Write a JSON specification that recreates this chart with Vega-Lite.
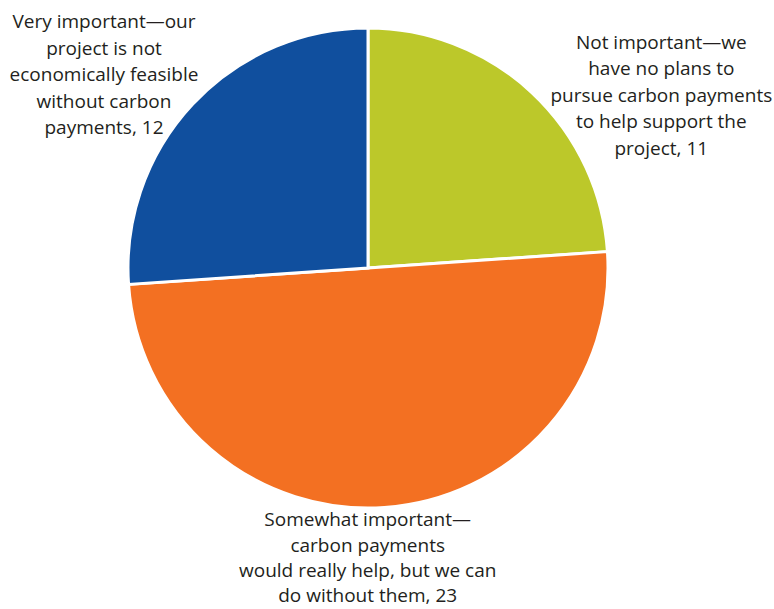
{
  "$schema": "https://vega.github.io/schema/vega-lite/v6.json",
  "width": 480,
  "height": 480,
  "autosize": {"type": "none"},
  "padding": {"left": 128, "top": 28, "right": 166, "bottom": 101},
  "background": "white",
  "data": {
    "values": [
      {"category": "Not important", "label": "Not important\u2014we\nhave no plans to\npursue carbon payments\nto help support the\nproject, 11", "value": 11, "rank": 1},
      {"category": "Somewhat important", "label": "Somewhat important\u2014\ncarbon payments\nwould really help, but we can\ndo without them, 23", "value": 23, "rank": 2},
      {"category": "Very important", "label": "Very important\u2014our\nproject is not\neconomically feasible\nwithout carbon\npayments, 12", "value": 12, "rank": 3}
    ]
  },
  "transform": [
    {"stack": "value", "groupby": [], "sort": [{"field": "rank", "order": "ascending"}], "as": ["v0", "v1"]}
  ],
  "layer": [
    {
      "mark": {"type": "arc", "stroke": "white", "strokeWidth": 3},
      "encoding": {
        "theta": {"field": "v0", "type": "quantitative", "scale": {"domain": [0, 46]}},
        "theta2": {"field": "v1"},
        "color": {
          "field": "category",
          "type": "nominal",
          "scale": {
            "domain": ["Not important", "Somewhat important", "Very important"],
            "range": ["#BCC82A", "#F37022", "#104F9E"]
          },
          "legend": null
        }
      }
    },
    {
      "transform": [{"filter": "datum.rank == 1"}],
      "mark": {"type": "text", "radius": 300, "dx": -6, "dy": -205, "align": "center", "baseline": "middle", "lineBreak": "\n", "lineHeight": 26.6, "font": "Open Sans", "fontSize": 19, "color": "#231F20"},
      "encoding": {
        "theta": {"field": "v1", "type": "quantitative"},
        "text": {"field": "label"}
      }
    },
    {
      "transform": [{"filter": "datum.rank == 2"}],
      "mark": {"type": "text", "radius": 300, "dx": 299, "dy": 232, "align": "center", "baseline": "middle", "lineBreak": "\n", "lineHeight": 25.3, "font": "Open Sans", "fontSize": 19, "color": "#231F20"},
      "encoding": {
        "theta": {"field": "v1", "type": "quantitative"},
        "text": {"field": "label"}
      }
    },
    {
      "transform": [{"filter": "datum.rank == 3"}],
      "mark": {"type": "text", "radius": 300, "dx": -264, "dy": 54, "align": "center", "baseline": "middle", "lineBreak": "\n", "lineHeight": 26.6, "font": "Open Sans", "fontSize": 19, "color": "#231F20"},
      "encoding": {
        "theta": {"field": "v1", "type": "quantitative"},
        "text": {"field": "label"}
      }
    }
  ]
}
